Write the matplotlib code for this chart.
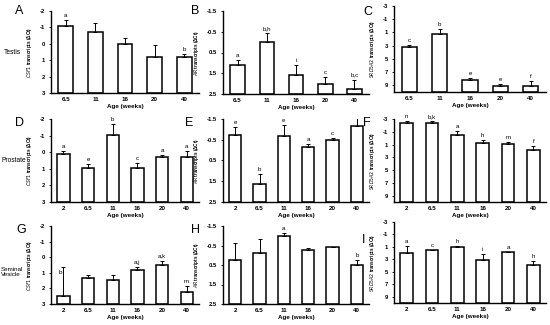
import numpy as np
import matplotlib
matplotlib.use("Agg")
import matplotlib.pyplot as plt

plt.rcParams['font.family'] = ['Liberation Sans', 'DejaVu Sans']

# ages (weeks)
ages_testis = ["6.5", "11", "16", "20", "40"]
ages_all = ["2", "6.5", "11", "16", "20", "40"]

# Testis
csf1_testis = [-1.1, -0.72, 0.02, 0.81, 0.81]
csf1_testis_err = [0.35, 0.57, 0.4, 0.71, 0.18]
csf1_testis_lab = ["a", "", "", "", "b"]
ar_testis = [1.09, -0.03, 1.59, 2.02, 2.26]
ar_testis_err = [0.24, 0.4, 0.5, 0.34, 0.45]
ar_testis_lab = ["a", "b,h", "i", "c", "b,c"]
srd_testis = [3.18, 1.3, 8.14, 9.1, 9.1]
srd_testis_err = [0.26, 0.76, 0.2, 0.25, 0.76]
srd_testis_lab = ["c", "b", "e", "e", "f"]

# Prostate
csf1_prostate = [0.13, 0.94, -1.01, 0.94, 0.27, 0.27]
csf1_prostate_err = [0.2, 0.23, 0.69, 0.27, 0.1, 0.35]
csf1_prostate_lab = ["a", "e", "b", "c", "a", "a"]
ar_prostate = [-0.75, 1.65, -0.67, -0.14, -0.51, -1.15]
ar_prostate_err = [0.35, 0.48, 0.53, 0.16, 0.08, 0.4]
ar_prostate_lab = ["e", "b", "e", "a", "c", "e"]
srd_prostate = [-2.37, -2.32, -0.54, 0.77, 0.88, 1.93]
srd_prostate_err = [0.37, 0.31, 0.52, 0.42, 0.28, 0.73]
srd_prostate_lab = ["n", "b,k", "a", "h", "m", "f"]

# Seminal vesicle
csf1_sv = [2.47, 1.34, 1.45, 0.85, 0.49, 2.26]
csf1_sv_err = [1.87, 0.17, 0.28, 0.21, 0.26, 0.39]
csf1_sv_lab = ["b", "", "", "a,j", "a,k", "m"]
csf1_sv_lab_y = [0.95, None, None, None, None, None]  # "b" sits lower in the original
ar_sv = [0.24, -0.1, -0.99, -0.27, -0.41, 0.49]
ar_sv_err = [0.85, 0.72, 0.14, 0.09, 0.0, 0.25]
ar_sv_lab = ["", "", "a", "", "", "b"]
srd_sv = [1.91, 1.53, 1.0, 3.03, 1.8, 3.93]
srd_sv_err = [1.0, 0.1, 0.16, 0.96, 0.05, 0.64]
srd_sv_lab = ["a", "c", "h", "i", "a", "h"]

csf1_ticks = [-2, -1, 0, 1, 2, 3]
ar_ticks = [-1.5, -0.5, 0.5, 1.5, 2.5]
srd_ticks = [-3, -1, 1, 3, 5, 7, 9]

W, H = 550, 325
fig = plt.figure(figsize=(W / 100, H / 100), dpi=100)


def px_axes(left, top, right, bottom):
    return fig.add_axes([left / W, 1 - bottom / H, (right - left) / W, (bottom - top) / H])


def panel(box, ages, vals, errs, labs, ticks, ylim, gene, letter, letter_xy, lab_y=None):
    ax = px_axes(*box)
    x = np.arange(len(ages))
    base = ylim[0]
    ax.bar(x, np.array(vals) - base, bottom=base, width=0.5,
           color="white", edgecolor="black", linewidth=1.1, zorder=2)
    ax.errorbar(x, vals, yerr=[errs, np.zeros(len(errs))], fmt="none",
                ecolor="black", elinewidth=0.7, capsize=1.3, capthick=0.7, zorder=3)
    for i, (xi, v, e, lab) in enumerate(zip(x, vals, errs, labs)):
        if not lab:
            continue
        if lab_y is not None and lab_y[i] is not None:
            ax.text(xi - 0.1, lab_y[i], lab, ha="center", va="center", fontsize=4.6)
        else:
            ax.annotate(lab, (xi, v - e), xytext=(0, 1.5), textcoords="offset points",
                        ha="center", va="bottom", fontsize=4.4)
    ax.set_ylim(*ylim)
    ax.set_xlim(-0.5, len(ages) - 0.5)
    ax.set_yticks(ticks)
    ax.set_yticklabels([f"{t:g}" for t in ticks], fontsize=4.2, fontweight="bold")
    ax.set_xticks(x)
    ax.set_xticklabels(ages, fontsize=4.5, fontweight="bold")
    ax.tick_params(axis="x", length=0, pad=3)
    ax.tick_params(axis="y", length=1.5, width=0.6, pad=3)
    for s in ["top", "right"]:
        ax.spines[s].set_visible(False)
    for s in ["left", "bottom"]:
        ax.spines[s].set_linewidth(1.0)
    ax.set_xlabel("Age (weeks)", fontsize=4.5, fontweight="bold", labelpad=1)
    ax.set_ylabel(r"$\it{" + gene + r"}$" + " transcripts (ΔCt)", fontsize=3.3,
                  fontweight="bold", labelpad=4)
    fig.text(letter_xy[0] / W, 1 - letter_xy[1] / H, letter, fontsize=9,
             ha="center", va="center")
    return ax


col1 = (51, 199)
col2 = (223, 369)
col3 = (394, 546)

panel((col1[0], 11, col1[1], 93), ages_testis, csf1_testis, csf1_testis_err, csf1_testis_lab,
      csf1_ticks, (3, -2), "CSF1", "A", (19, 11))
panel((col2[0], 11, col2[1], 94), ages_testis, ar_testis, ar_testis_err, ar_testis_lab,
      ar_ticks, (2.5, -1.5), "AR", "B", (195, 11))
panel((col3[0], 6, col3[1], 92), ages_testis, srd_testis, srd_testis_err, srd_testis_lab,
      srd_ticks, (10, -3), "SRD5A2", "C", (368, 12))

panel((col1[0], 119, col1[1], 202), ages_all, csf1_prostate, csf1_prostate_err, csf1_prostate_lab,
      csf1_ticks, (3, -2), "CSF1", "D", (20, 123))
panel((col2[0], 119, col2[1], 202), ages_all, ar_prostate, ar_prostate_err, ar_prostate_lab,
      ar_ticks, (2.5, -1.5), "AR", "E", (189, 123))
panel((col3[0], 119, col3[1], 202), ages_all, srd_prostate, srd_prostate_err, srd_prostate_lab,
      srd_ticks, (10, -3), "SRD5A2", "F", (367, 123))

panel((col1[0], 226, col1[1], 304), ages_all, csf1_sv, csf1_sv_err, csf1_sv_lab,
      csf1_ticks, (3, -2), "CSF1", "G", (21, 230), lab_y=csf1_sv_lab_y)
panel((col2[0], 226, col2[1], 304), ages_all, ar_sv, ar_sv_err, ar_sv_lab,
      ar_ticks, (2.5, -1.5), "AR", "H", (195, 230))
panel((col3[0], 222, col3[1], 303), ages_all, srd_sv, srd_sv_err, srd_sv_lab,
      srd_ticks, (10, -3), "SRD5A2", "I", (364, 240))

fig.text(4 / W, 1 - 52 / H, "Testis", fontsize=4.8, va="center")
fig.text(1 / W, 1 - 161 / H, "Prostate", fontsize=4.8, va="center")
fig.text(1 / W, 1 - 272 / H, "Seminal\nVesicle", fontsize=4.5, va="center", linespacing=1.1)

fig.savefig("out.png", dpi=100)
